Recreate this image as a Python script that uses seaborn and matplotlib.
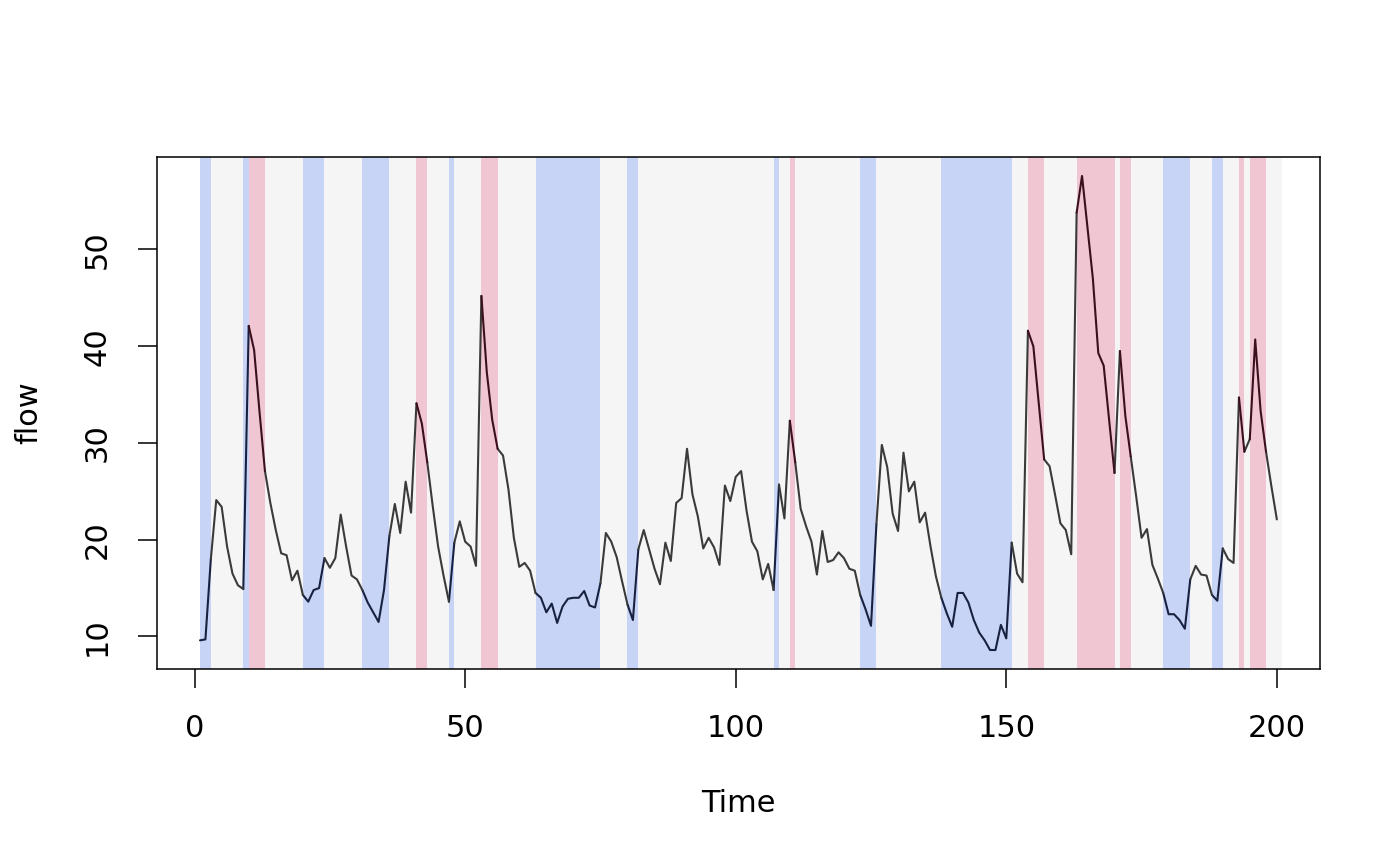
import numpy as np
import pandas as pd
import matplotlib
matplotlib.use("Agg")
import matplotlib.pyplot as plt
import seaborn as sns

sns.set_theme(style="white")
plt.rcParams['font.family'] = ['DejaVu Sans']
plt.rcParams['text.color'] = 'black'
plt.rcParams['axes.labelcolor'] = 'black'
plt.rcParams['xtick.color'] = 'black'
plt.rcParams['ytick.color'] = 'black'

# flow values, time 1..200
flow = [
    9.6, 9.7, 18.0, 24.1, 23.4, 19.3, 16.5, 15.3, 14.9, 42.1,
    39.6, 33.2, 27.1, 23.8, 21.0, 18.6, 18.4, 15.8, 16.8, 14.3,
    13.6, 14.8, 15.0, 18.1, 17.1, 18.1, 22.6, 19.3, 16.3, 15.9,
    14.8, 13.5, 12.5, 11.5, 14.8, 20.4, 23.7, 20.7, 26.0, 22.8,
    34.1, 32.0, 28.0, 23.5, 19.3, 16.3, 13.6, 19.7, 21.9, 19.8,
    19.3, 17.3, 45.2, 37.3, 32.4, 29.4, 28.7, 25.2, 20.2, 17.2,
    17.6, 16.8, 14.5, 14.0, 12.5, 13.4, 11.4, 13.1, 13.9, 14.0,
    14.0, 14.7, 13.2, 13.0, 15.5, 20.7, 19.8, 18.2, 15.7, 13.3,
    11.7, 19.0, 21.0, 19.0, 17.0, 15.4, 19.7, 17.8, 23.8, 24.3,
    29.4, 24.7, 22.4, 19.1, 20.2, 19.2, 17.4, 25.6, 24.0, 26.5,
    27.1, 23.0, 19.8, 18.8, 15.9, 17.5, 14.8, 25.7, 22.2, 32.3,
    28.0, 23.2, 21.4, 19.8, 16.4, 20.9, 17.7, 17.9, 18.7, 18.1,
    17.0, 16.8, 14.3, 12.8, 11.1, 21.6, 29.8, 27.5, 22.7, 20.9,
    29.0, 25.0, 26.0, 21.8, 22.8, 19.3, 16.2, 14.0, 12.4, 11.0,
    14.5, 14.5, 13.5, 11.7, 10.4, 9.6, 8.6, 8.6, 11.2, 9.8,
    19.7, 16.5, 15.6, 41.6, 40.0, 34.1, 28.3, 27.6, 24.7, 21.7,
    21.0, 18.5, 53.8, 57.6, 52.3, 47.0, 39.3, 38.0, 32.4, 26.9,
    39.5, 32.8, 28.6, 24.5, 20.2, 21.1, 17.4, 16.0, 14.5, 12.3,
    12.3, 11.7, 10.8, 15.9, 17.3, 16.4, 16.3, 14.3, 13.7, 19.1,
    18.0, 17.6, 34.7, 29.1, 30.4, 40.7, 33.3, 29.1, 25.5, 22.1,
]
time = list(range(1, len(flow) + 1))

# periods (first, last time step) classed as low / high flow
low_periods = [(1, 2), (9, 9), (20, 23), (31, 35), (47, 47), (63, 74),
               (80, 81), (107, 107), (123, 125), (138, 150), (179, 183),
               (188, 189)]
high_periods = [(10, 12), (41, 42), (53, 55), (110, 110), (154, 156),
                (163, 169), (171, 172), (193, 193), (195, 197)]

band_colors = {"normal": "#F5F5F5", "low": "#C7D4F5", "high": "#F0C6D2"}
line_colors = {"normal": "#3A3A3A", "low": "#18213F", "high": "#3A0F1E"}

state = np.array(["normal"] * len(flow), dtype=object)
for a, b in low_periods:
    state[a - 1:b] = "low"
for a, b in high_periods:
    state[a - 1:b] = "high"

# runs of equal state
runs = []
start = 0
for i in range(1, len(state) + 1):
    if i == len(state) or state[i] != state[start]:
        runs.append((start, i - 1, state[start]))
        start = i

# long table: each run also takes the next point so the line stays joined
rows = []
for k, (a, b, s) in enumerate(runs):
    for i in range(a, min(b + 2, len(flow))):
        rows.append({"Time": time[i], "flow": flow[i], "state": s, "run": k})
df = pd.DataFrame(rows)

fig = plt.figure(figsize=(14, 8.66), dpi=100)
ax = fig.add_axes([0.1121, 0.2275, 0.8307, 0.5912])

for a, b, s in runs:
    ax.axvspan(time[a], time[b] + 1, color=band_colors[s], lw=0, zorder=0)

sns.lineplot(data=df, x="Time", y="flow", hue="state", units="run",
             estimator=None, palette=line_colors, linewidth=1.5,
             legend=False, ax=ax, zorder=2)

span_x = time[-1] - time[0]
ax.set_xlim(time[0] - 0.04 * span_x, time[-1] + 0.04 * span_x)
lo, hi = min(flow), max(flow)
ax.set_ylim(lo - 0.04 * (hi - lo), hi + 0.04 * (hi - lo))

ax.set_xticks([0, 50, 100, 150, 200])
ax.set_yticks([10, 20, 30, 40, 50])
ax.tick_params(axis="both", which="both", direction="out", length=13.5,
               width=1.1, color="black", labelcolor="black", labelsize=22,
               pad=19, bottom=True, left=True)
plt.setp(ax.get_yticklabels(), rotation=90, va="center")

for sp in ax.spines.values():
    sp.set_color("black")
    sp.set_linewidth(1.1)

ax.set_xlabel("Time", fontsize=22, color="black")
ax.set_ylabel("flow", fontsize=22, color="black")
ax.xaxis.set_label_coords(0.5, -0.235)
ax.yaxis.set_label_coords(-0.098, 0.5)

fig.savefig("out.png", dpi=100, facecolor="white")
